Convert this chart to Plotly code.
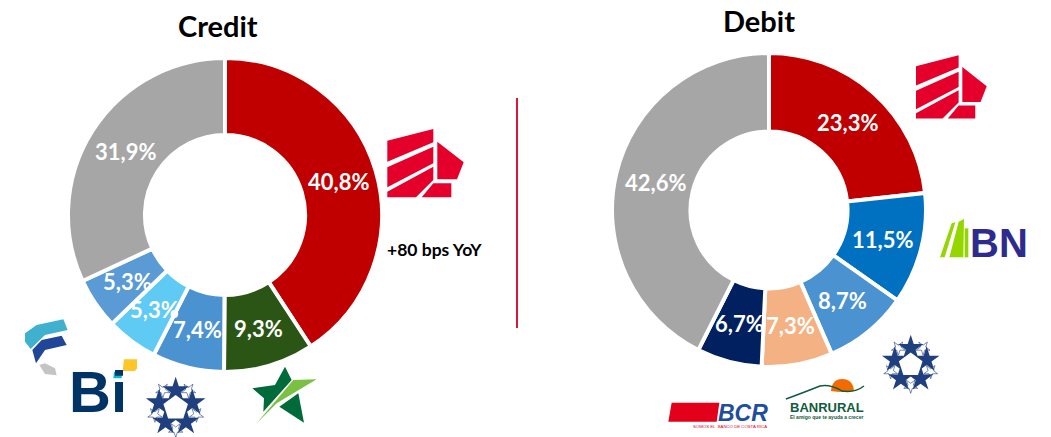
import math
import plotly.graph_objects as go

W, H = 1051, 437

# ---- data ----
credit_labels = ["Bank A", "Bank B", "Bank C", "Bank D", "Bank E", "Others"]
credit_values = [40.8, 9.3, 7.4, 5.3, 5.3, 31.9]
credit_colors = ["#C00000", "#2B5514", "#4A92D0", "#5FCBF4", "#5B9BD5", "#A6A6A6"]

debit_labels = ["Bank A", "BN", "Bank C", "Banrural", "BCR", "Others"]
debit_values = [23.3, 11.5, 8.7, 7.3, 6.7, 42.6]
debit_colors = ["#C00000", "#0070C0", "#4A92D0", "#F4B183", "#002060", "#A6A6A6"]

FONT = "Lato"
px = lambda x: x / W
py = lambda y: 1 - y / H


def path(pts):
    return "M" + "L".join(f"{px(x):.5f},{py(y):.5f}" for x, y in pts) + "Z"


def poly(pts, color):
    return dict(type="path", xref="paper", yref="paper", path=path(pts),
                fillcolor=color, line=dict(width=0), layer="above")


def crop(pts, ox, oy):
    return [(ox + x / 3, oy + y / 3) for x, y in pts]


def donut(values, colors, labels, cx, cy, r, hole, name):
    return go.Pie(
        labels=labels, values=values, name=name, sort=False, direction="clockwise",
        rotation=0, hole=hole, textinfo="none", hoverinfo="label+percent",
        marker=dict(colors=colors, line=dict(color="white", width=4)),
        domain=dict(x=[px(cx - r), px(cx + r)], y=[py(cy + r), py(cy - r)]),
        showlegend=False)


def value_labels(values, cx, cy, rmid, size):
    out, cum, tot = [], 0, sum(values)
    for v in values:
        a = 2 * math.pi * (cum + v / 2) / tot
        cum += v
        out.append(dict(x=px(cx + rmid * math.sin(a)), y=py(cy - rmid * math.cos(a)),
                        xref="paper", yref="paper", showarrow=False,
                        xanchor="center", yanchor="middle",
                        text=f"{v:.1f}".replace(".", ",") + "%",
                        font=dict(family=FONT, size=size, color="white", weight="bold")))
    return out


def label(x, y, text, size, color, family=FONT, bold=True, italic=False):
    t = f"<i>{text}</i>" if italic else text
    return dict(x=px(x), y=py(y), xref="paper", yref="paper", showarrow=False, text=t,
                xanchor="center", yanchor="middle",
                font=dict(family=family, size=size, color=color,
                          weight="bold" if bold else "normal"))


def red_logo(ox, oy, s):
    c = "#E4002B"
    parts = [
        [(0, 11.7), (46, 0), (46, 13.3), (0, 32.7)],
        [(0, 38.3), (46, 17.7), (46, 34.3), (0, 58.3)],
        [(0, 62.7), (46, 37.7), (46, 51), (28.7, 68.3), (0, 68.3)],
        [(34.4, 68.3), (46, 54.3), (64, 54.3), (64, 68.3)],
        [(50, 12.7), (76.4, 33.3), (69.7, 50.3), (50, 50.3)],
    ]
    return [poly([(ox + x * s, oy + y * s) for x, y in p], c) for p in parts]


def star_pts(cx, cy, r, rot=0.0, ratio=0.38):
    pts = []
    for i in range(10):
        a = rot + math.pi * i / 5
        rr = r if i % 2 == 0 else r * ratio
        pts.append((cx + rr * math.sin(a), cy - rr * math.cos(a)))
    return pts


def star_logo(cx, cy, R):
    navy = "#1F3F7F"
    out = []
    for i in range(5):
        a = 2 * math.pi * (i + 0.5) / 5
        out.append(dict(type="path", xref="paper", yref="paper",
                        path=path(star_pts(cx + 0.78 * R * math.sin(a), cy - 0.78 * R * math.cos(a),
                                           0.27 * R, a)),
                        fillcolor="white", line=dict(color=navy, width=0.6), layer="above"))
    for i in range(5):
        a = 2 * math.pi * i / 5
        out.append(poly(star_pts(cx + 0.62 * R * math.sin(a), cy - 0.62 * R * math.cos(a),
                                 0.5 * R, 0.0), navy))
    pent = [(cx + 0.46 * R * math.sin(2 * math.pi * i / 5),
             cy - 0.46 * R * math.cos(2 * math.pi * i / 5)) for i in range(5)]
    out.append(poly(pent, "white"))
    return out


shapes = [dict(type="line", xref="paper", yref="paper", x0=px(517), x1=px(517), y0=py(98), y1=py(328),
               line=dict(color="#D9173A", width=2))]
shapes += red_logo(387.3, 129, 1.0)
shapes += red_logo(916, 55.3, 0.926)
shapes += star_logo(175.7, 408, 28)
shapes += star_logo(910.7, 365, 27)

# green star logo
shapes += [
    poly(crop([(757, 265), (825, 255), (855, 200), (875, 240), (790, 335), (792, 295)], 0, 300), "#006B3A"),
    poly(crop([(838, 320), (895, 280), (912, 368)], 0, 300), "#006B3A"),
    poly(crop([(768, 372), (880, 240), (950, 238), (830, 310)], 0, 300), "#7AC143"),
    # teal / blue / grey logo
    poly(crop([(75, 100), (110, 75), (190, 58), (203, 90), (135, 105), (92, 147), (75, 125)], 0, 300), "#3FB0CE"),
    poly(crop([(97, 150), (125, 120), (185, 107), (200, 135), (135, 150), (108, 190)], 0, 300), "#1F4699"),
    poly(crop([(118, 195), (135, 190), (165, 205), (170, 226), (135, 222)], 0, 300), "#C4C4C4"),
    # Bi squares
    poly(crop([(342, 215), (365, 215), (365, 235), (340, 235)], 0, 300), "#00BCD8"),
    poly(crop([(372, 178), (411, 178), (411, 205), (405, 213), (368, 213)], 0, 300), "#FFC629"),
    # BN green bars
    poly(crop([(120, 622), (155, 520), (166, 517), (134, 622)], 900, 50), "#95D600"),
    poly(crop([(148, 622), (176, 515), (192, 507), (190, 622)], 900, 50), "#95D600"),
    poly(crop([(194, 535), (205, 535), (205, 622), (194, 622)], 900, 50), "#95D600"),
    # BCR bar
    poly(crop([(35, 218), (178, 218), (170, 275), (25, 275)], 660, 330), "#E2001A"),
]
# Banrural sun and swoosh
shapes += [
    dict(type="path", xref="paper", yref="paper", layer="above", fillcolor="#F26A00", line=dict(width=0),
         path=f"M{px(831)},{py(391)} Q{px(832)},{py(379)} {px(842)},{py(379)} Q{px(853)},{py(379)} {px(854)},{py(391)} "
              f"Q{px(843)},{py(393)} {px(831)},{py(391)} Z"),
    dict(type="path", xref="paper", yref="paper", layer="above", line=dict(color="#0F5C3C", width=1.4),
         path=f"M{px(786)},{py(399)} Q{px(805)},{py(392)} {px(820)},{py(386)} Q{px(830)},{py(384)} {px(842)},{py(391)} "
              f"Q{px(855)},{py(393)} {px(864)},{py(386)}"),
]

annotations = (
    value_labels(credit_values, 225, 215, 118, 22)
    + value_labels(debit_values, 769, 210, 117, 22)
    + [
        label(218, 25, "Credit", 29, "black"),
        label(759, 21, "Debit", 29, "black"),
        label(434, 249, "+80 bps YoY", 17.5, "black"),
        label(98, 391, "Bi", 58, "#003366", "Liberation Sans"),
        label(999, 243, "BN", 40, "#2E2A8E", "Liberation Sans"),
        label(743, 413, "BCR", 23, "#1F4E9A", "Liberation Sans", italic=True),
        label(730, 426.5, "SOMOS EL  BANCO DE COSTA RICA", 4.3, "#E2001A", "Liberation Sans", bold=False),
        label(826.5, 407, "BANRURAL", 13, "#0F5C3C", "Liberation Sans"),
        label(826.5, 417, "El amigo que te ayuda a crecer", 5, "#0F5C3C", "Liberation Sans"),
    ]
)

fig = go.Figure([
    donut(credit_values, credit_colors, credit_labels, 225, 215, 157, 0.51, "Credit"),
    donut(debit_values, debit_colors, debit_labels, 769, 210, 157, 0.5, "Debit"),
])
fig.update_layout(width=W, height=H, margin=dict(l=0, r=0, t=0, b=0), autosize=False,
                  paper_bgcolor="white", shapes=shapes, annotations=annotations)
fig.write_html("out.html", config=dict(displayModeBar=False),
               post_script="document.body.style.margin='0';")
